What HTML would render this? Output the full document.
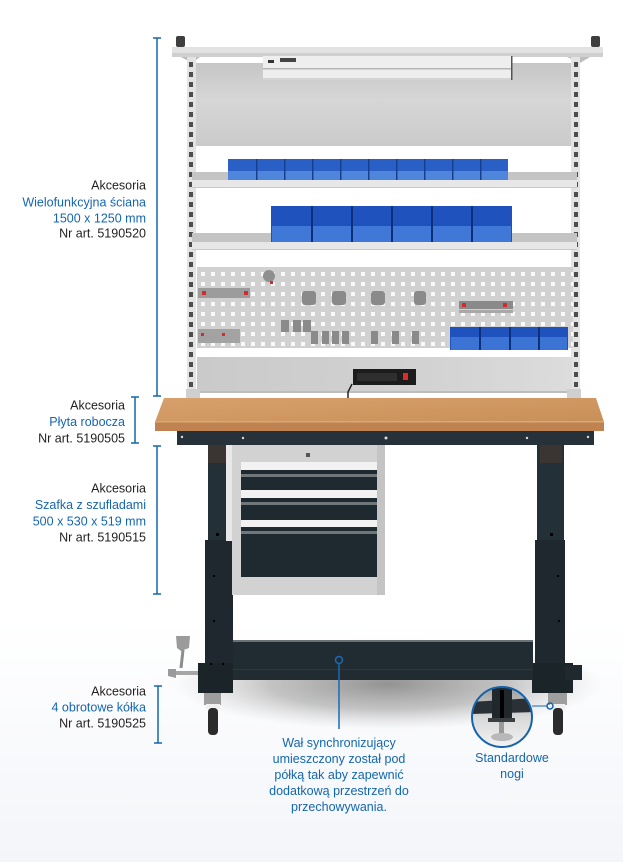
<!DOCTYPE html>
<html><head><meta charset="utf-8"><style>
html,body{margin:0;padding:0;}
body{width:623px;height:862px;overflow:hidden;background:#fff;}
svg{display:block;}
text{font-family:"Liberation Sans",sans-serif;font-size:12.5px;}
.d{fill:#231f20;}
.b{fill:#1566b0;}
</style></head><body>
<svg width="623" height="862" viewBox="0 0 623 862" xmlns="http://www.w3.org/2000/svg">
<defs>
<linearGradient id="bg" x1="0" y1="0" x2="0" y2="1">
<stop offset="0" stop-color="#ffffff"/><stop offset="0.72" stop-color="#ffffff"/><stop offset="1" stop-color="#f3f5f9"/>
</linearGradient>
<linearGradient id="panel" x1="0" y1="0" x2="0" y2="1">
<stop offset="0" stop-color="#c6c6c6"/><stop offset="0.45" stop-color="#d6d6d6"/><stop offset="1" stop-color="#cbcbcb"/>
</linearGradient>
<linearGradient id="lowp" x1="0" y1="0" x2="1" y2="0">
<stop offset="0" stop-color="#cacaca"/><stop offset="0.6" stop-color="#d2d2d2"/><stop offset="1" stop-color="#dcdcdc"/>
</linearGradient>
<pattern id="holes" x="199" y="271" width="10" height="10" patternUnits="userSpaceOnUse">
<rect x="2" y="1" width="4" height="4" fill="#fafafa"/>
</pattern>
<pattern id="slotsL" x="187" y="60" width="9" height="10" patternUnits="userSpaceOnUse">
<rect x="2" y="2" width="4" height="5" fill="#4d4d4d"/>
</pattern>
<pattern id="slotsR" x="571" y="60" width="9" height="10" patternUnits="userSpaceOnUse">
<rect x="3" y="2" width="4" height="5" fill="#4d4d4d"/>
</pattern>
<radialGradient id="sh" cx="0.5" cy="0.5" r="0.5">
<stop offset="0" stop-color="#808080" stop-opacity="0.85"/><stop offset="0.55" stop-color="#959595" stop-opacity="0.55"/><stop offset="1" stop-color="#bbbbbb" stop-opacity="0"/>
</radialGradient>
<linearGradient id="wood" x1="0" y1="0" x2="1" y2="1">
<stop offset="0" stop-color="#d7a06c"/><stop offset="1" stop-color="#c98f58"/>
</linearGradient>
<linearGradient id="mag" x1="0" y1="0" x2="0" y2="1">
<stop offset="0" stop-color="#9a9a9a"/><stop offset="0.5" stop-color="#d8d8d8"/><stop offset="1" stop-color="#f6f6f6"/>
</linearGradient>
<clipPath id="mc"><circle cx="502" cy="717" r="30"/></clipPath>
</defs>
<rect width="623" height="862" fill="url(#bg)"/>

<!-- shadow -->
<ellipse cx="388" cy="684" rx="215" ry="46" fill="url(#sh)"/>

<!-- top frame -->
<rect x="176" y="36" width="9" height="11" rx="2" fill="#3e3e3e"/>
<rect x="591" y="36" width="9" height="11" rx="2" fill="#3e3e3e"/>
<polygon points="172,47 603,47 603,53 172,53" fill="#e2e2e2"/>
<rect x="172" y="53" width="431" height="4" fill="#cfcfcf"/>
<polygon points="181,57 200,57 192,63" fill="#bdbdbd"/>
<polygon points="567,57 590,57 580,63" fill="#bdbdbd"/>

<!-- uprights -->
<rect x="187" y="57" width="9" height="343" fill="#e3e3e3"/>
<rect x="187" y="60" width="9" height="340" fill="url(#slotsL)"/>
<rect x="571" y="57" width="9" height="343" fill="#e3e3e3"/>
<rect x="571" y="60" width="9" height="340" fill="url(#slotsR)"/>

<!-- upper panel -->
<rect x="196" y="63" width="375" height="83" fill="url(#panel)"/>

<!-- light fixture -->
<rect x="263" y="56" width="249" height="24" fill="#eeeeee"/>
<rect x="263" y="68" width="249" height="1.5" fill="#b5b5b5"/>
<rect x="263" y="78" width="249" height="2" fill="#d4d4d4"/>
<rect x="511" y="56" width="1.5" height="24" fill="#555"/>
<rect x="268" y="60" width="6" height="3" fill="#333"/>
<rect x="280" y="58" width="16" height="4" fill="#444"/>

<!-- shelf 1 -->
<rect x="192" y="172" width="385" height="8" fill="#c4c4c4"/>
<rect x="192" y="180" width="385" height="8" fill="#e7e7e7"/>
<rect x="192" y="187" width="385" height="1" fill="#c9c9c9"/>
<g>
<rect x="228" y="159" width="280" height="21" fill="#2a60c6"/>
<rect x="228" y="171" width="280" height="9" fill="#4f86dc"/>
<g fill="#163f8c">
<rect x="256" y="159" width="1.5" height="21"/><rect x="284" y="159" width="1.5" height="21"/><rect x="312" y="159" width="1.5" height="21"/><rect x="340" y="159" width="1.5" height="21"/><rect x="368" y="159" width="1.5" height="21"/><rect x="396" y="159" width="1.5" height="21"/><rect x="424" y="159" width="1.5" height="21"/><rect x="452" y="159" width="1.5" height="21"/><rect x="480" y="159" width="1.5" height="21"/>
</g>
</g>

<!-- shelf 2 -->
<rect x="192" y="233" width="385" height="9" fill="#c4c4c4"/>
<rect x="192" y="242" width="385" height="8" fill="#e7e7e7"/>
<rect x="192" y="249" width="385" height="1" fill="#c9c9c9"/>
<g>
<rect x="271" y="206" width="241" height="36" fill="#1f52bd"/>
<rect x="272" y="226" width="239" height="16" fill="#3f78d6"/>
<g fill="#0f2f78">
<rect x="311" y="206" width="2" height="36"/><rect x="351" y="206" width="2" height="36"/><rect x="391" y="206" width="2" height="36"/><rect x="431" y="206" width="2" height="36"/><rect x="471" y="206" width="2" height="36"/>
</g>
</g>

<!-- pegboard -->
<rect x="197" y="267" width="376" height="81" fill="#d1d1d1"/>
<rect x="197" y="267" width="376" height="81" fill="url(#holes)"/>
<rect x="198" y="288" width="52" height="10" fill="#9c9c9c"/>
<rect x="202" y="291" width="4" height="4" fill="#d62b2b"/><rect x="244" y="291" width="4" height="4" fill="#d62b2b"/>
<circle cx="269" cy="276" r="6" fill="#8f8f8f"/><rect x="270" y="281" width="3" height="3" fill="#d62b2b"/>
<rect x="198" y="329" width="42" height="14" fill="#a3a3a3"/>
<rect x="201" y="333" width="3" height="3" fill="#d62b2b"/><rect x="222" y="333" width="3" height="3" fill="#d62b2b"/>
<g fill="#8a8a8a">
<rect x="302" y="291" width="14" height="14" rx="3"/><rect x="332" y="291" width="14" height="14" rx="3"/><rect x="371" y="291" width="14" height="14" rx="3"/><rect x="414" y="291" width="12" height="14" rx="3"/>
<rect x="281" y="320" width="8" height="12"/><rect x="293" y="320" width="8" height="12"/><rect x="303" y="320" width="8" height="12"/>
<rect x="311" y="331" width="7" height="13"/><rect x="322" y="331" width="7" height="13"/><rect x="332" y="331" width="7" height="13"/><rect x="342" y="331" width="7" height="13"/>
<rect x="371" y="331" width="7" height="13"/><rect x="392" y="331" width="7" height="13"/><rect x="412" y="331" width="7" height="13"/>
</g>
<rect x="459" y="301" width="54" height="8" fill="#8a8a8a"/>
<rect x="462" y="303" width="4" height="4" fill="#d62b2b"/><rect x="503" y="303" width="4" height="4" fill="#d62b2b"/>
<rect x="459" y="310" width="54" height="3" fill="#a8a8a8"/>
<g>
<rect x="450" y="327" width="118" height="23" fill="#1f52bd"/>
<rect x="451" y="337" width="116" height="13" fill="#3b74d4"/>
<g fill="#0f2f78"><rect x="479" y="327" width="2" height="23"/><rect x="509" y="327" width="2" height="23"/><rect x="538" y="327" width="2" height="23"/></g>
</g>

<!-- lower panel -->
<rect x="197" y="357" width="375" height="36" fill="url(#lowp)"/>
<rect x="197" y="391" width="375" height="2" fill="#bdbdbd"/>
<rect x="353" y="369" width="63" height="16" fill="#1c1c1c"/>
<rect x="357" y="373" width="40" height="8" fill="#2e2e2e"/>
<rect x="403" y="373" width="5" height="7" fill="#e02a2a"/>
<path d="M352 384 L348 392 L348 399" stroke="#222" stroke-width="1.5" fill="none"/>
<rect x="186" y="389" width="14" height="10" fill="#cfcfcf"/>
<rect x="567" y="389" width="14" height="10" fill="#cfcfcf"/>

<!-- worktop -->
<polygon points="164,398 596,398 604,422 155,422" fill="url(#wood)"/>
<rect x="155" y="422" width="449" height="9" fill="#bf8250"/>
<rect x="155" y="421" width="449" height="1.5" fill="#d9a878"/>
<rect x="177" y="431" width="417" height="14" fill="#26313a"/>
<g fill="#dcdcdc"><circle cx="182" cy="437" r="1.2"/><circle cx="243" cy="438" r="1.2"/><circle cx="386" cy="438" r="1.5"/><circle cx="527" cy="438" r="1.2"/><circle cx="588" cy="437" r="1.2"/></g>

<!-- lever -->
<polygon points="176,636 190,636 189,648 181,651 177,648" fill="#9b9b9b"/>
<path d="M183 650 L181 668" stroke="#8c8c8c" stroke-width="3"/>
<rect x="168" y="671" width="34" height="4" fill="#a6a6a6"/>
<polygon points="168,669 176,669 176,678 168,676" fill="#9a9a9a"/>

<!-- legs -->
<rect x="208" y="445" width="18" height="96" fill="#243037"/>
<rect x="208" y="445" width="18" height="18" fill="#3a3532"/>
<rect x="205" y="540" width="28" height="125" fill="#1e282e"/>
<rect x="198" y="663" width="35" height="30" fill="#1a2429"/>
<rect x="537" y="445" width="27" height="96" fill="#243037"/>
<rect x="540" y="445" width="22" height="18" fill="#3a3532"/>
<rect x="535" y="540" width="30" height="125" fill="#1e282e"/>
<rect x="532" y="663" width="41" height="30" fill="#1a2429"/>
<rect x="565" y="665" width="17" height="15" fill="#1f292e"/>
<g fill="#000"><rect x="216" y="533" width="3" height="3"/><rect x="213" y="575" width="2" height="2"/><rect x="213" y="620" width="2" height="2"/><rect x="550" y="533" width="3" height="3"/><rect x="557" y="575" width="2" height="2"/><rect x="558" y="620" width="2" height="2"/><rect x="210" y="663" width="2" height="2"/><rect x="222" y="663" width="2" height="2"/></g>
<rect x="226" y="445" width="6" height="96" fill="#e8e8e8"/>

<!-- beam -->
<rect x="233" y="640" width="300" height="40" fill="#212c32"/>
<rect x="233" y="640" width="300" height="2" fill="#6a7277"/>
<rect x="233" y="669" width="300" height="1" fill="#2d383e"/>

<!-- casters -->
<rect x="204" y="693" width="17" height="12" fill="#9e9e9e"/>
<rect x="206" y="704" width="14" height="5" fill="#f0f0f0"/>
<rect x="208" y="708" width="10" height="27" rx="4" fill="#2b2b2b"/>
<rect x="548" y="693" width="19" height="12" fill="#9e9e9e"/>
<rect x="550" y="704" width="15" height="5" fill="#f0f0f0"/>
<rect x="553" y="708" width="10" height="27" rx="4" fill="#2b2b2b"/>

<!-- cabinet -->
<rect x="232" y="445" width="153" height="150" fill="#d2d2d2"/>
<rect x="377" y="445" width="8" height="150" fill="#c4c4c4"/>
<rect x="306" y="453" width="4" height="4" fill="#555"/>
<rect x="241" y="462" width="136" height="8" fill="#f2f2f2"/>
<rect x="241" y="470" width="136" height="20" fill="#1e2a30"/>
<rect x="241" y="474" width="136" height="3" fill="#6f777b"/>
<rect x="241" y="490" width="136" height="8" fill="#f2f2f2"/>
<rect x="241" y="498" width="136" height="22" fill="#1e2a30"/>
<rect x="241" y="502" width="136" height="3" fill="#6f777b"/>
<rect x="241" y="520" width="136" height="7" fill="#f2f2f2"/>
<rect x="241" y="527" width="136" height="50" fill="#1e2a30"/>
<rect x="241" y="531" width="136" height="3" fill="#6f777b"/>

<!-- magnifier -->
<g clip-path="url(#mc)">
<rect x="470" y="685" width="65" height="65" fill="url(#mag)"/>
<polygon points="470,702 535,698 535,712 470,714" fill="#2a3136"/>
<rect x="492" y="686" width="20" height="36" fill="#20282c"/>
<rect x="500" y="690" width="4" height="30" fill="#000"/>
<rect x="499" y="720" width="5" height="14" fill="#9a9a9a"/>
<ellipse cx="502" cy="737" rx="11" ry="4" fill="#b8b8b8"/>
<rect x="488" y="718" width="27" height="4" fill="#3a3f42"/>
</g>
<circle cx="502" cy="717" r="30" fill="none" stroke="#1563ab" stroke-width="2"/>
<line x1="532" y1="706" x2="547" y2="706" stroke="#5b95cd" stroke-width="1.5"/>
<circle cx="550" cy="706" r="3" fill="none" stroke="#1563ab" stroke-width="1.5"/>

<!-- beam callout -->
<circle cx="339" cy="660" r="3.5" fill="none" stroke="#1a6ab5" stroke-width="1.5"/>
<line x1="339" y1="664" x2="339" y2="729" stroke="#1a6ab5" stroke-width="1.5"/>

<!-- brackets -->
<g stroke="#1566ad" stroke-width="1.5">
<line x1="157" y1="38" x2="157" y2="396"/><line x1="153" y1="38" x2="161" y2="38"/><line x1="153" y1="396" x2="161" y2="396"/>
<line x1="135" y1="397" x2="135" y2="443"/><line x1="131" y1="397" x2="139" y2="397"/><line x1="131" y1="443" x2="139" y2="443"/>
<line x1="157" y1="446" x2="157" y2="594"/><line x1="153" y1="446" x2="161" y2="446"/><line x1="153" y1="594" x2="161" y2="594"/>
<line x1="158" y1="686" x2="158" y2="743"/><line x1="154" y1="686" x2="162" y2="686"/><line x1="154" y1="743" x2="162" y2="743"/>
</g>

<!-- labels -->
<g text-anchor="end">
<text x="146" y="189.5" class="d">Akcesoria</text>
<text x="146" y="206.5" class="b">Wielofunkcyjna ściana</text>
<text x="146" y="222.5" class="b">1500 x 1250 mm</text>
<text x="146" y="237.5" class="d">Nr art. 5190520</text>

<text x="125" y="409.5" class="d">Akcesoria</text>
<text x="125" y="426" class="b">Płyta robocza</text>
<text x="125" y="442.5" class="d">Nr art. 5190505</text>

<text x="146" y="492.5" class="d">Akcesoria</text>
<text x="146" y="509" class="b">Szafka z szufladami</text>
<text x="146" y="525.5" class="b">500 x 530 x 519 mm</text>
<text x="146" y="541.5" class="d">Nr art. 5190515</text>

<text x="146" y="695.5" class="d">Akcesoria</text>
<text x="146" y="711.5" class="b">4 obrotowe kółka</text>
<text x="146" y="727.5" class="d">Nr art. 5190525</text>
</g>
<g text-anchor="middle">
<text x="339" y="747" class="b">Wał synchronizujący</text>
<text x="339" y="763" class="b">umieszczony został pod</text>
<text x="339" y="779" class="b">półką  tak aby zapewnić</text>
<text x="339" y="795" class="b">dodatkową przestrzeń do</text>
<text x="339" y="811" class="b">przechowywania.</text>
<text x="512" y="762" class="b">Standardowe</text>
<text x="512" y="778" class="b">nogi</text>
</g>
</svg>
</body></html>
